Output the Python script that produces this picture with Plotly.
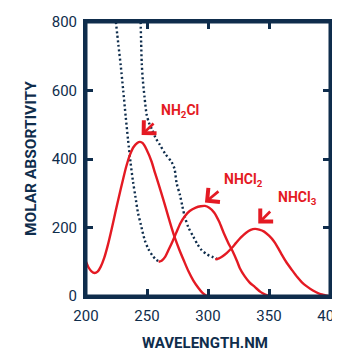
import plotly.graph_objects as go

# ---- data ----
nh2cl_wl = [200, 202, 204.5, 207, 209.5, 212, 215, 218, 221, 224, 227, 230, 233, 236, 239, 242, 244.3,
            246.5, 249.7, 253.8, 256.5, 259.3, 263.5, 267.5, 270.5, 273, 276.5, 280, 284, 288, 292, 295.5, 299]
nh2cl_val = [100, 84, 72, 67, 71, 85, 112, 150, 195, 243, 290, 335, 378, 412, 435, 447, 450,
             446, 427, 392, 360, 329, 280, 231, 195, 168, 135, 105, 72, 45, 24, 9, 0]

nhcl2_wl = [259.5, 262, 265, 268, 271, 274, 277.5, 281, 285, 290, 294, 297.5, 301, 305, 309, 313,
            317, 320, 324, 326, 330, 334, 338.5, 343, 347, 350]
nhcl2_val = [100, 103, 115, 137, 160, 185, 213, 233, 248, 258, 262, 263, 258, 244, 218, 183,
             152, 132, 100, 82, 58, 40, 26, 12, 4, 0]

nhcl3_wl = [306, 309, 312, 315.5, 319.4, 323, 327, 331, 335, 338.5, 342, 346, 350, 354, 357, 360,
            364, 368.6, 373, 377, 381, 386, 391, 395, 398.5]
nhcl3_val = [107, 110, 116, 126, 140, 155, 171, 184, 193, 196, 194, 188, 176, 160, 143, 124,
             100, 77, 56, 40, 28, 16, 7, 3, 0]

dot_left_wl = [224.5, 226.5, 228.5, 230.5, 232.5, 234.5, 236.5, 238.5, 240.5, 242.5, 245, 248,
               251, 254.5, 257.5, 260]
dot_left_val = [800, 735, 672, 600, 525, 455, 390, 335, 290, 245, 208, 165,
                138, 118, 106, 101]

dot_right_wl = [244.8, 245.2, 245.7, 246.6, 248, 249.7, 251.7, 254, 257, 260.5, 265, 270, 272.5,
                274.3, 277, 279, 281, 284, 288, 291.5, 294.8, 299, 303, 308]
dot_right_val = [800, 740, 680, 630, 580, 530, 505, 487, 462, 442, 415, 392, 372,
                 329, 295, 262, 231, 200, 173, 150, 134, 122, 115, 107]

labels = ["NH<sub>2</sub>Cl", "NHCl<sub>2</sub>", "NHCl<sub>3</sub>"]
label_wl = [260.2, 311.5, 355.8]
label_val = [540, 339, 285]
arrow_head_wl = [245.6, 297.5, 341.2]
arrow_head_val = [470, 273, 212]
arrow_tail_wl = [256.6, 309.8, 352.2]
arrow_tail_val = [508, 309, 251]

x_ticks = [200, 250, 300, 350, 400]
y_ticks = [0, 200, 400, 600, 800]
x_title = "WAVELENGTH.NM"
y_title = "MOLAR ABSORTIVITY"

RED = "#e41a23"
NAVY = "#0f2d4c"
FONT = "Roboto, sans-serif"

fig = go.Figure()
for xs, ys in [(dot_left_wl, dot_left_val), (dot_right_wl, dot_right_val)]:
    fig.add_trace(go.Scatter(x=xs, y=ys, mode="lines",
                             line=dict(color=NAVY, width=2.4, dash="2px,2.6px", shape="spline", smoothing=0.8),
                             showlegend=False, hoverinfo="skip"))
for xs, ys in [(nh2cl_wl, nh2cl_val), (nhcl2_wl, nhcl2_val), (nhcl3_wl, nhcl3_val)]:
    fig.add_trace(go.Scatter(x=xs, y=ys, mode="lines",
                             line=dict(color=RED, width=2.4, shape="spline", smoothing=0.8),
                             showlegend=False, hoverinfo="skip"))

for i in range(3):
    fig.add_annotation(x=arrow_head_wl[i], y=arrow_head_val[i], ax=arrow_tail_wl[i], ay=arrow_tail_val[i],
                       axref="x", ayref="y", xref="x", yref="y", text="", showarrow=True,
                       arrowhead=4, arrowsize=1.3, arrowwidth=2.7, arrowcolor=RED)
    fig.add_annotation(x=label_wl[i], y=label_val[i], xref="x", yref="y", text=labels[i],
                       showarrow=False, xanchor="left", yanchor="middle",
                       font=dict(family=FONT, size=14, color=RED, weight="bold"))

# axis titles as annotations for exact placement
fig.add_annotation(x=0.488, y=-0.172, xref="paper", yref="paper", text=x_title, showarrow=False,
                   xanchor="center", yanchor="middle",
                   font=dict(family=FONT, size=15, color=NAVY, weight="bold"))
fig.add_annotation(x=-0.225, y=0.5, xref="paper", yref="paper", text=y_title, showarrow=False,
                   textangle=-90, xanchor="center", yanchor="middle",
                   font=dict(family=FONT, size=15.5, color=NAVY, weight="bold"))

# frame around plot area
fig.add_shape(type="rect", xref="paper", yref="paper", x0=0, x1=1, y0=0, y1=1,
              line=dict(color=NAVY, width=3), layer="above")

axis_common = dict(showline=True, linecolor=NAVY, linewidth=3, mirror="ticks", ticks="inside",
                   ticklen=7, tickwidth=3, tickcolor=NAVY, showgrid=False, zeroline=False,
                   automargin=False, ticklabeloverflow="allow",
                   tickfont=dict(family=FONT, size=15, color=NAVY))
fig.update_xaxes(range=[200, 400], tickvals=x_ticks, ticktext=[str(v) for v in x_ticks],
                 ticklabelstandoff=4, **axis_common)
fig.update_yaxes(range=[0, 800], tickvals=y_ticks, ticktext=[str(v) for v in y_ticks],
                 ticklabelstandoff=3, **axis_common)

# page body has an 8px margin: compensate so the plot area sits at 86..330 x 22..296
fig.update_layout(width=332, height=346, margin=dict(l=78, r=10, t=14, b=58, autoexpand=False),
                  plot_bgcolor="white", paper_bgcolor="white")
fig.write_html("out.html")
